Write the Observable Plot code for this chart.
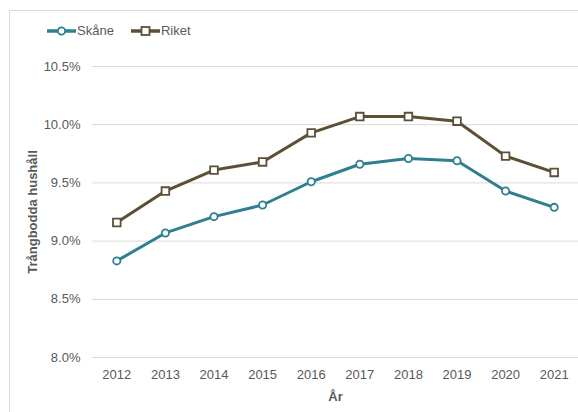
<!DOCTYPE html>
<html>
<head>
<meta charset="utf-8">
<script src="https://cdn.jsdelivr.net/npm/d3@7"></script>
<script src="https://cdn.jsdelivr.net/npm/@observablehq/plot@0.6"></script>
<style>
  body { margin: 0; background: #fff; font-family: "Liberation Sans", Arial, sans-serif; }
  #wrap { position: relative; width: 578px; height: 412px; overflow: hidden; }
  #frame { position: absolute; left: 9px; top: 10px; width: 600px; height: 420px;
           border-left: 1px solid #d9d9d9; border-top: 1px solid #d9d9d9; }
  #legend { position: absolute; left: 47px; top: 23px; display: flex; align-items: center;
            font-size: 13px; color: #595959; }
  .item { display: flex; align-items: center; margin-right: 0px; }
  .item span { margin-left: 1px; }
  #chart { position: absolute; left: 0; top: 0; }
  g[aria-label="y-axis label"] text, g[aria-label="x-axis label"] text { font-weight: bold; }
</style>
</head>
<body>
<div id="wrap">
  <div id="frame"></div>
  <div id="chart"></div>
  <div id="legend"></div>
</div>
<script>
const years = [2012, 2013, 2014, 2015, 2016, 2017, 2018, 2019, 2020, 2021];
const skane = [8.83, 9.07, 9.21, 9.31, 9.51, 9.66, 9.71, 9.69, 9.43, 9.29];
const riket = [9.16, 9.43, 9.61, 9.68, 9.93, 10.07, 10.07, 10.03, 9.73, 9.59];
const seriesNames = ["Skåne", "Riket"];
const colors = ["#2f7f91", "#5d4f36"];
const yTicks = [8.0, 8.5, 9.0, 9.5, 10.0, 10.5];

const data = [];
years.forEach((y, i) => {
  data.push({year: String(y), value: skane[i], series: seriesNames[0]});
  data.push({year: String(y), value: riket[i], series: seriesNames[1]});
});
const sk = data.filter(d => d.series === seriesNames[0]);
const ri = data.filter(d => d.series === seriesNames[1]);

const chart = Plot.plot({
  width: 578,
  height: 412,
  marginLeft: 92,
  marginRight: 0,
  marginTop: 66,
  marginBottom: 55,
  style: { fontFamily: "'Liberation Sans', Arial, sans-serif", fontSize: "13px", color: "#595959", background: "transparent" },
  x: { type: "point", domain: years.map(String), padding: 0.5, round: false },
  y: { domain: [8.0, 10.5] },
  marks: [
    Plot.gridY(yTicks, { stroke: "#d9d9d9", strokeOpacity: 1, strokeWidth: 1 }),
    Plot.axisY(yTicks, { tickSize: 0, tickPadding: 12, tickFormat: d => d.toFixed(1) + "%",
      label: "Trångbodda hushåll", labelArrow: false, labelAnchor: "center", labelOffset: 65, fill: "#595959" }),
    Plot.axisX({ tickSize: 0, tickPadding: 12, label: "År", labelArrow: false, labelAnchor: "center", labelOffset: 43, fill: "#595959" }),
    Plot.line(sk, { x: "year", y: "value", stroke: colors[0], strokeWidth: 3 }),
    Plot.line(ri, { x: "year", y: "value", stroke: colors[1], strokeWidth: 3 }),
    Plot.dot(sk, { x: "year", y: "value", symbol: "circle", r: 3.6, fill: "white", stroke: colors[0], strokeWidth: 1.8 }),
    Plot.dot(ri, { x: "year", y: "value", symbol: "square", r: 4.3, fill: "white", stroke: colors[1], strokeWidth: 1.8 })
  ]
});
document.getElementById("chart").appendChild(chart);

// legend
const legend = document.getElementById("legend");
seriesNames.forEach((name, i) => {
  const item = document.createElement("div");
  item.className = "item";
  const ns = "http://www.w3.org/2000/svg";
  const svg = document.createElementNS(ns, "svg");
  svg.setAttribute("width", 29); svg.setAttribute("height", 14);
  const line = document.createElementNS(ns, "line");
  line.setAttribute("x1", 0); line.setAttribute("x2", 29);
  line.setAttribute("y1", 7); line.setAttribute("y2", 7);
  line.setAttribute("stroke", colors[i]); line.setAttribute("stroke-width", 3.5);
  svg.appendChild(line);
  let m;
  if (i === 0) {
    m = document.createElementNS(ns, "circle");
    m.setAttribute("cx", 14.5); m.setAttribute("cy", 7); m.setAttribute("r", 3.6);
  } else {
    m = document.createElementNS(ns, "rect");
    m.setAttribute("x", 10.5); m.setAttribute("y", 3); m.setAttribute("width", 8); m.setAttribute("height", 8);
  }
  m.setAttribute("fill", "white"); m.setAttribute("stroke", colors[i]); m.setAttribute("stroke-width", 1.8);
  svg.appendChild(m);
  item.appendChild(svg);
  const t = document.createElement("span");
  t.textContent = name;
  t.style.marginRight = i === 0 ? "17px" : "0";
  item.appendChild(t);
  legend.appendChild(item);
});
</script>
</body>
</html>
